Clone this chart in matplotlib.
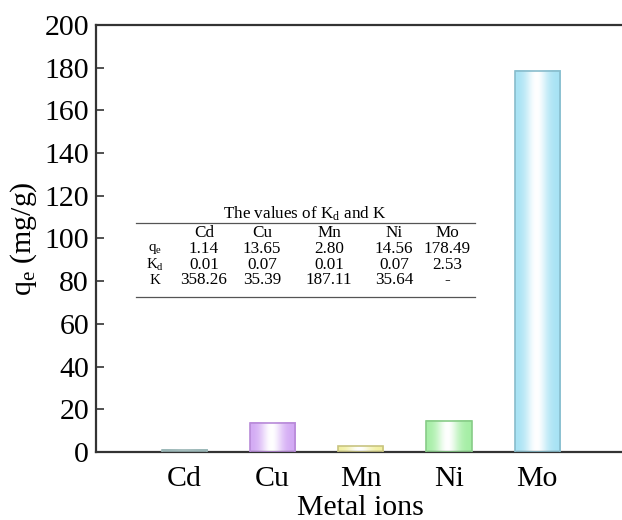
import numpy as np
import matplotlib.pyplot as plt
from matplotlib.colors import to_rgb
from matplotlib.lines import Line2D

plt.rcParams['font.family'] = 'Liberation Serif'
plt.rcParams['mathtext.fontset'] = 'custom'
plt.rcParams['mathtext.rm'] = 'Liberation Serif'
plt.rcParams['mathtext.it'] = 'Liberation Serif:italic'

METALS = ['Cd', 'Cu', 'Mn', 'Ni', 'Mo']
QE = [1.14, 13.65, 2.80, 14.56, 178.49]
KD = ['0.01', '0.07', '0.01', '0.07', '2.53']
K = ['358.26', '35.39', '187.11', '35.64', '-']
QE_TXT = ['1.14', '13.65', '2.80', '14.56', '178.49']

FILL = ['#b4d2d2', '#d2a8f4', '#f2f0a0', '#a4eea4', '#a6e2f4']
EDGE = ['#98b4b4', '#b88ad8', '#c8c480', '#88cc88', '#88bccc']

W, H = 622, 520
fig = plt.figure(figsize=(W / 100, H / 100), dpi=100)
ax = fig.add_axes([96 / W, 1 - 452 / H, 529.5 / W, 427 / H])

x = np.arange(1, len(METALS) + 1)
bw = 0.51
t = np.linspace(0, 1, 200)
white = np.exp(-((t - 0.47) / 0.24) ** 2)
for xi, h, fc, ec in zip(x, QE, FILL, EDGE):
    c = np.array(to_rgb(fc))
    row = c[None, :] * (1 - white[:, None]) + white[:, None]
    img = np.repeat(row[None, :, :], 2, axis=0)
    ax.imshow(img, extent=[xi - bw / 2, xi + bw / 2, 0, h], aspect='auto',
              zorder=2, interpolation='bilinear')
    ax.bar(xi, h, width=bw, facecolor='none', edgecolor=ec, linewidth=1.2, zorder=3)

ax.set_xlim(0, 6)
ax.set_ylim(0, 200)
ax.set_xticks(x)
ax.set_xticklabels(METALS)
ax.set_yticks(np.arange(0, 201, 20))
ax.tick_params(axis='x', length=0, labelsize=21.5, pad=10)
ax.tick_params(axis='y', direction='in', length=6, width=1.2, labelsize=21.5,
               color='#333333', pad=5)
for s in ['left', 'top', 'bottom']:
    ax.spines[s].set_linewidth(1.6)
    ax.spines[s].set_color('#333333')
ax.spines['right'].set_visible(False)
ax.set_xlabel('Metal ions', fontsize=21.5, labelpad=2)
ax.set_ylabel('q$_\\mathrm{e}$ (mg/g)', fontsize=21.5, labelpad=4)

# inset table of K_d and K values
def fx(px):
    return px / W

def fy(py):
    return 1 - py / H

cols = [155, 204, 262, 329, 394, 447]
fs = 12.3
fig.text(fx(305), fy(214), 'The values of K$_\\mathrm{d}$ and K', fontsize=fs,
         ha='center', va='center')
fig.add_artist(Line2D([fx(136), fx(475)], [fy(223), fy(223)], color='#555555', lw=0.9))
fig.add_artist(Line2D([fx(136), fx(475)], [fy(297), fy(297)], color='#555555', lw=0.9))
rows = [[''] + METALS,
        ['q$_\\mathrm{e}$'] + QE_TXT,
        ['K$_\\mathrm{d}$'] + KD,
        ['K'] + K]
for ry, r in zip([233, 248.5, 265, 280.5], rows):
    for i, (cx, s) in enumerate(zip(cols, r)):
        fig.text(fx(cx), fy(ry), s, fontsize=fs if i else 10.8,
                 ha='center', va='center')

fig.savefig('out.png', dpi=100)
